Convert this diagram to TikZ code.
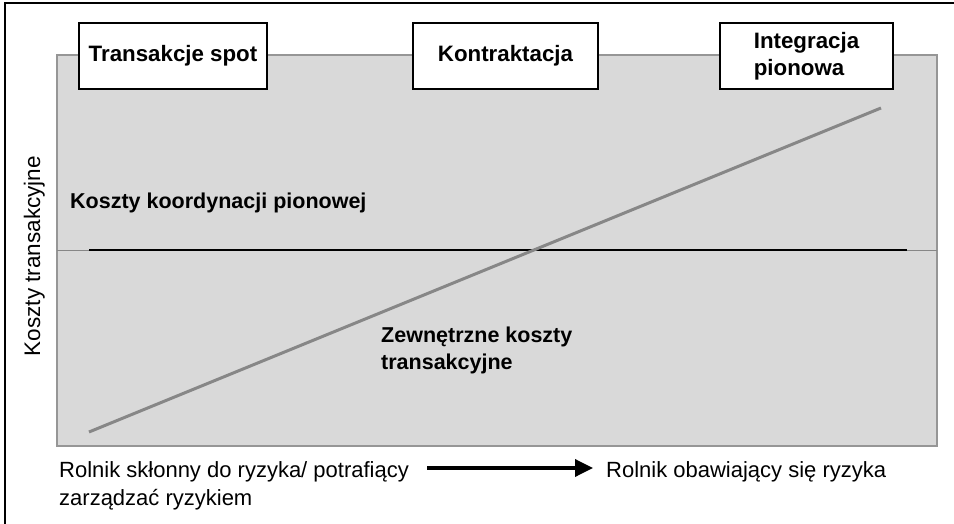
\documentclass[tikz,border=0pt]{standalone}
\usepackage{fontspec}
\setmainfont{Liberation Sans}
\usetikzlibrary{arrows.meta}
\definecolor{panelGray}{RGB}{217,217,217}
\definecolor{edgeGray}{RGB}{150,150,150}
\definecolor{lineGray}{RGB}{135,135,135}

\begin{document}
\begin{tikzpicture}[x=1pt,y=-1pt,
  stagebox/.style={rectangle,draw,line width=1.6pt,fill=white,minimum height=66pt,inner sep=0pt,font=\fontsize{22.3}{27}\selectfont\bfseries},
  boldlabel/.style={inner sep=0pt,align=left,font=\fontsize{21.5}{27}\selectfont\bfseries},
  plainlabel/.style={inner sep=0pt,align=left,font=\fontsize{22}{28}\selectfont}]
\useasboundingbox (0,0) rectangle (954,524);
% Frame
\draw[line width=1.8pt] (5,524) -- (5,3) -- (954,3);

% Panel
\draw[line width=1.5pt,draw=edgeGray,fill=panelGray] (57,55) rectangle (937,446);
\coordinate (midL) at (57,250);
\coordinate (midR) at (937,250);
\coordinate (coordL) at (89,250);
\coordinate (coordR) at (907,250);
\coordinate (extL) at (89,432);
\coordinate (extR) at (881,108);
\draw[line width=1pt,lineGray] (midL) -- (midR);
\draw[line width=2pt] (coordL) -- (coordR);
\draw[line width=3pt,lineGray] (extL) -- (extR);

% Stages
\node[stagebox,minimum width=188pt] (spot) at (173,56) {Transakcje spot};
\node[stagebox,minimum width=185pt] (contract) at (505.5,56) {Kontraktacja};
\node[stagebox,minimum width=173pt,align=left] (integr) at (806.5,56) {Integracja\\pionowa};

% Labels
\node[plainlabel,rotate=90,anchor=base,font=\fontsize{22.5}{28}\selectfont] (yaxis) at (40,256) {Koszty transakcyjne};
\node[boldlabel,anchor=base west] (coordcost) at (70,209) {Koszty koordynacji pionowej};
\node[boldlabel,anchor=north west] (extcost) at (381,327) {Zewnętrzne koszty\\transakcyjne};

% Risk
\node[plainlabel,anchor=north west] (riskfree) at (59,461) {Rolnik skłonny do ryzyka/ potrafiący\\zarządzać ryzykiem};
\node[plainlabel,anchor=base west] (riskaverse) at (606,477) {Rolnik obawiający się ryzyka};
\coordinate (arrowL) at (427,468);
\coordinate (arrowR) at (593,468);
\draw[line width=3.5pt,-{Triangle[length=18pt,width=17pt]}] (arrowL) -- (arrowR);
\end{tikzpicture}
\end{document}
